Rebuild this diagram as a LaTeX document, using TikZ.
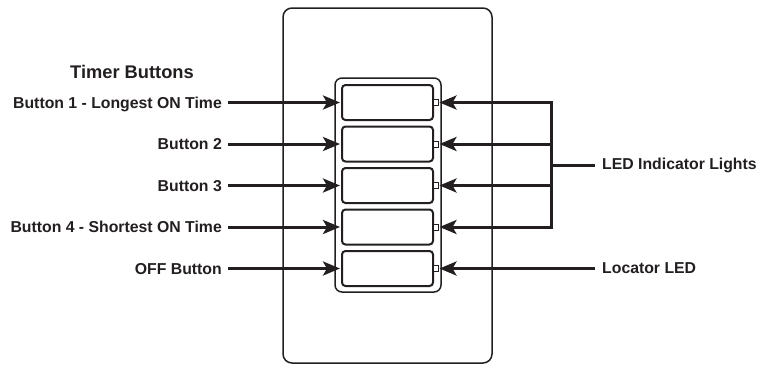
\documentclass[tikz,border=0pt]{standalone}
\usepackage{fontspec}
\setmainfont{Liberation Sans}
\usetikzlibrary{arrows.meta}
\definecolor{ink}{HTML}{231F20}
\begin{document}
\begin{tikzpicture}[x=1pt,y=-1pt,
  lbl/.style={font=\bfseries\fontsize{15.8}{18}\selectfont, text=ink, inner sep=0pt},
  ttl/.style={font=\bfseries\fontsize{18.3}{21}\selectfont, text=ink, inner sep=0pt},
  btn/.style={draw=ink, line width=2pt, rounded corners=3.5pt, minimum width=91pt, minimum height=35pt, inner sep=0pt},
  led/.style={draw=ink, line width=1pt, minimum width=5pt, minimum height=6pt, inner sep=0pt, fill=white},
  frame/.style={draw=ink, line width=1.5pt},
  arr/.style={draw=ink, line width=3pt, -{Stealth[length=17pt, width=14pt, inset=4pt]}},
  wire/.style={draw=ink, line width=3pt}]
\useasboundingbox (0,0) rectangle (758,365);
% wall plate and button frame
\draw[frame, rounded corners=9pt] (283,8) rectangle (492,363);
\draw[frame, rounded corners=7pt] (335,78) rectangle (441,292);
% buttons and LEDs
\foreach \i/\y in {1/102.5,2/144,3/185.5,4/227,5/268.5}{
  \node[btn] (b\i) at (387.5,\y) {};
  \node[led] (l\i) at (435.5,\y) {};
}
% left labels
\node[ttl, anchor=base] (tb) at (132,78) {Timer Buttons};
\node[lbl, anchor=base east] (t1) at (222,108) {Button 1 - Longest ON Time};
\node[lbl, anchor=base east] (t2) at (222,149.5) {Button 2};
\node[lbl, anchor=base east] (t3) at (222,191) {Button 3};
\node[lbl, anchor=base east] (t4) at (222,232.5) {Button 4 - Shortest ON Time};
\node[lbl, anchor=base east] (t5) at (222,274) {OFF Button};
\foreach \i in {1,...,5}{
  \draw[arr] ([xshift=6pt]t\i.east |- b\i.west) -- ([xshift=-1pt]b\i.west);
}
% right side
\coordinate (j1) at (551,102.5);
\coordinate (j2) at (551,144);
\coordinate (j3) at (551,185.5);
\coordinate (j4) at (551,227);
\coordinate (jm) at (551,165);
\coordinate (je) at (595,165);
\coordinate (le) at (595,268.5);
\node[lbl, anchor=west] (tl) at (602,165) {LED Indicator Lights};
\node[lbl, anchor=west] (tloc) at (602,268.5) {Locator LED};
\draw[wire, line cap=rect] (j1) -- (j4);
\draw[wire] (jm) -- (je);
\foreach \i in {1,...,4}{
  \draw[arr] (j\i) -- ([xshift=1pt]l\i.east);
}
\draw[arr] (le) -- ([xshift=1pt]l5.east);
\end{tikzpicture}
\end{document}
